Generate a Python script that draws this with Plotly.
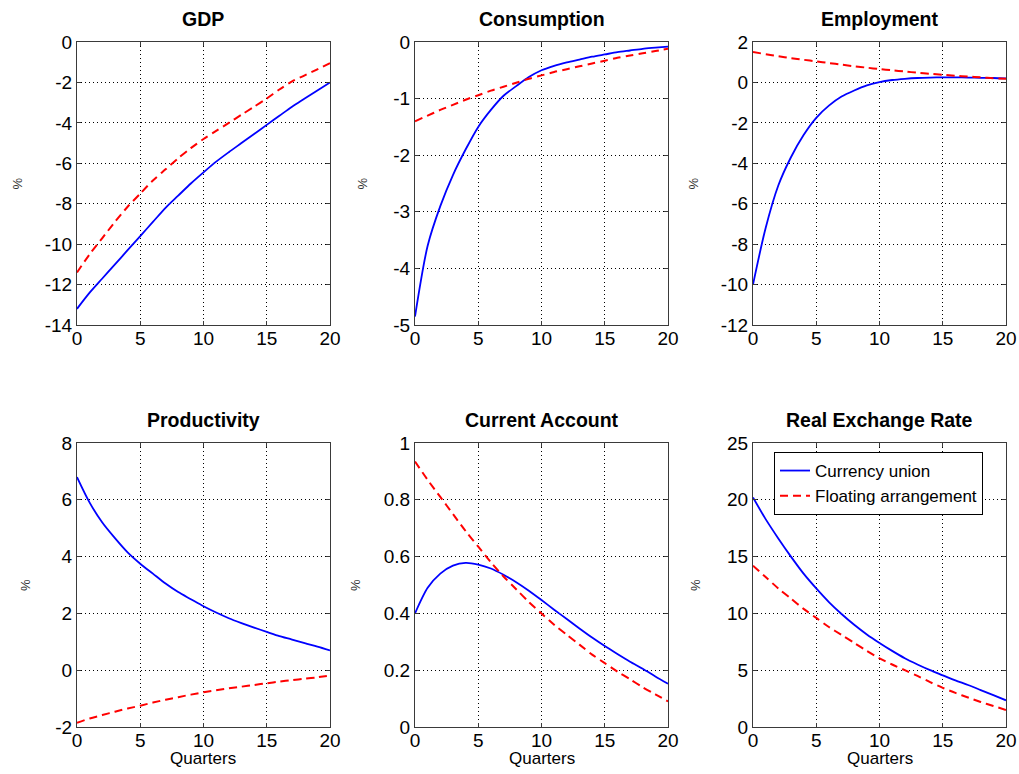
import plotly.graph_objects as go

quarters = list(range(21))
x_ticks = [0, 5, 10, 15, 20]

titles = ["GDP", "Consumption", "Employment",
          "Productivity", "Current Account", "Real Exchange Rate"]

gdp_cu = [-13.2, -12.4, -11.7, -11.0, -10.3, -9.6, -8.9, -8.2, -7.6, -7.0, -6.45,
          -5.92, -5.45, -5.0, -4.55, -4.1, -3.65, -3.2, -2.8, -2.4, -2.0]
gdp_fl = [-11.4, -10.5, -9.7, -8.9, -8.15, -7.5, -6.85, -6.3, -5.75, -5.25, -4.8,
          -4.4, -4.0, -3.6, -3.2, -2.8, -2.35, -1.95, -1.65, -1.35, -1.05]

cons_cu = [-4.85, -3.6, -2.9, -2.35, -1.9, -1.5, -1.2, -0.95, -0.78, -0.62, -0.5,
           -0.42, -0.36, -0.31, -0.26, -0.22, -0.18, -0.15, -0.12, -0.1, -0.08]
cons_fl = [-1.4, -1.3, -1.2, -1.11, -1.02, -0.94, -0.86, -0.79, -0.72, -0.65, -0.59,
           -0.53, -0.48, -0.43, -0.38, -0.33, -0.28, -0.24, -0.2, -0.16, -0.12]

emp_cu = [-10.0, -7.2, -5.1, -3.7, -2.6, -1.75, -1.15, -0.7, -0.4, -0.15, 0.02,
          0.12, 0.18, 0.22, 0.24, 0.25, 0.25, 0.24, 0.23, 0.22, 0.2]
emp_fl = [1.5, 1.4, 1.3, 1.2, 1.12, 1.04, 0.96, 0.88, 0.8, 0.73, 0.66,
          0.6, 0.54, 0.48, 0.43, 0.38, 0.33, 0.29, 0.25, 0.21, 0.18]

prod_cu = [6.8, 5.9, 5.2, 4.65, 4.15, 3.75, 3.4, 3.05, 2.75, 2.5, 2.25,
           2.03, 1.83, 1.66, 1.5, 1.35, 1.2, 1.08, 0.95, 0.83, 0.7]
prod_fl = [-1.85, -1.7, -1.58, -1.46, -1.35, -1.25, -1.14, -1.04, -0.95, -0.86, -0.78,
           -0.71, -0.64, -0.58, -0.52, -0.46, -0.4, -0.35, -0.3, -0.25, -0.19]

ca_cu = [0.40, 0.49, 0.54, 0.568, 0.578, 0.572, 0.558, 0.536, 0.51, 0.48, 0.447,
         0.413, 0.38, 0.347, 0.315, 0.285, 0.257, 0.23, 0.205, 0.178, 0.152]
ca_fl = [0.935, 0.87, 0.81, 0.75, 0.69, 0.635, 0.58, 0.53, 0.485, 0.44, 0.40,
         0.36, 0.325, 0.29, 0.255, 0.225, 0.195, 0.168, 0.14, 0.115, 0.09]

rer_cu = [20.2, 18.3, 16.6, 15.0, 13.5, 12.2, 11.0, 9.95, 9.0, 8.15, 7.4,
          6.7, 6.05, 5.5, 5.0, 4.55, 4.1, 3.7, 3.25, 2.8, 2.35]
rer_fl = [14.2, 13.2, 12.2, 11.3, 10.4, 9.6, 8.8, 8.1, 7.4, 6.7, 6.05,
          5.5, 5.0, 4.5, 3.95, 3.45, 3.0, 2.6, 2.2, 1.85, 1.5]

gdp_ticks = [-14, -12, -10, -8, -6, -4, -2, 0]
cons_ticks = [-5, -4, -3, -2, -1, 0]
emp_ticks = [-12, -10, -8, -6, -4, -2, 0, 2]
prod_ticks = [-2, 0, 2, 4, 6, 8]
ca_ticks = [0, 0.2, 0.4, 0.6, 0.8, 1]
rer_ticks = [0, 5, 10, 15, 20, 25]

series_cu = [gdp_cu, cons_cu, emp_cu, prod_cu, ca_cu, rer_cu]
series_fl = [gdp_fl, cons_fl, emp_fl, prod_fl, ca_fl, rer_fl]
y_ticks = [gdp_ticks, cons_ticks, emp_ticks, prod_ticks, ca_ticks, rer_ticks]

names = ["Currency union", "Floating arrangement"]

W, H = 1019, 774
x_px = [(77, 330), (415, 668), (753, 1006)]
y_px = [(42, 325), (443, 727)]
# horizontal distance of each "%" label from its axis
pct_offset = [60, 53, 60, 52, 60, 58]

FONT = "Arial, Liberation Sans, Helvetica, sans-serif"


def label(v):
    return f"{v:g}"


fig = go.Figure()
layout = {}
annotations = []

for i in range(6):
    r, c = divmod(i, 3)
    n = "" if i == 0 else str(i + 1)
    xd = [x_px[c][0] / W, x_px[c][1] / W]
    yd = [1 - y_px[r][1] / H, 1 - y_px[r][0] / H]

    fig.add_trace(go.Scatter(
        x=quarters, y=series_cu[i], mode="lines", name=names[0],
        line=dict(color="#0000ff", width=1.8, shape="spline", smoothing=0.8),
        xaxis="x" + n, yaxis="y" + n, showlegend=(i == 5)))
    fig.add_trace(go.Scatter(
        x=quarters, y=series_fl[i], mode="lines", name=names[1],
        line=dict(color="#ff0000", width=2, dash="8px,5px", shape="spline", smoothing=0.8),
        xaxis="x" + n, yaxis="y" + n, showlegend=(i == 5)))

    common = dict(showline=True, mirror="ticks", linecolor="#3a3a3a", linewidth=1,
                  ticks="inside", ticklen=4, tickcolor="#3a3a3a", automargin=False,
                  showgrid=True, gridcolor="#000000", gridwidth=1, griddash="1px,3px",
                  zeroline=False, tickfont=dict(family=FONT, size=19, color="#000"))
    yt = y_ticks[i]
    layout["xaxis" + n] = dict(domain=xd, anchor="y" + n, range=[0, 20],
                               tickmode="array", tickvals=x_ticks,
                               ticktext=[label(v) for v in x_ticks],
                               ticklabelstandoff=-4, **common)
    layout["yaxis" + n] = dict(domain=yd, anchor="x" + n, range=[yt[0], yt[-1]],
                               tickmode="array", tickvals=yt,
                               ticktext=[label(v) for v in yt], **common)

    annotations.append(dict(
        text="<b>" + titles[i] + "</b>", xref="paper", yref="paper",
        x=(xd[0] + xd[1]) / 2, y=yd[1], xanchor="center", yanchor="bottom",
        yshift=10, showarrow=False, font=dict(family=FONT, size=19.5, color="#000")))
    annotations.append(dict(
        text="%", xref="paper", yref="paper",
        x=(x_px[c][0] - pct_offset[i]) / W, y=(yd[0] + yd[1]) / 2,
        xanchor="center", yanchor="middle", textangle=-90,
        showarrow=False, font=dict(family=FONT, size=13, color="#333")))
    if r == 1:
        annotations.append(dict(
            text="Quarters", xref="paper", yref="paper",
            x=(xd[0] + xd[1]) / 2, y=1 - 747 / H, xanchor="center", yanchor="top",
            showarrow=False, font=dict(family=FONT, size=17, color="#000")))

fig.update_layout(
    width=W, height=H,
    margin=dict(l=0, r=0, t=0, b=0),
    paper_bgcolor="white", plot_bgcolor="white",
    showlegend=True,
    legend=dict(x=774 / W, y=1 - 452 / H, xanchor="left", yanchor="top",
                bgcolor="white", bordercolor="#000", borderwidth=1,
                font=dict(family=FONT, size=17, color="#000"),
                tracegroupgap=0, itemwidth=30),
    annotations=annotations,
    **layout)

fig.write_html("out.html")
